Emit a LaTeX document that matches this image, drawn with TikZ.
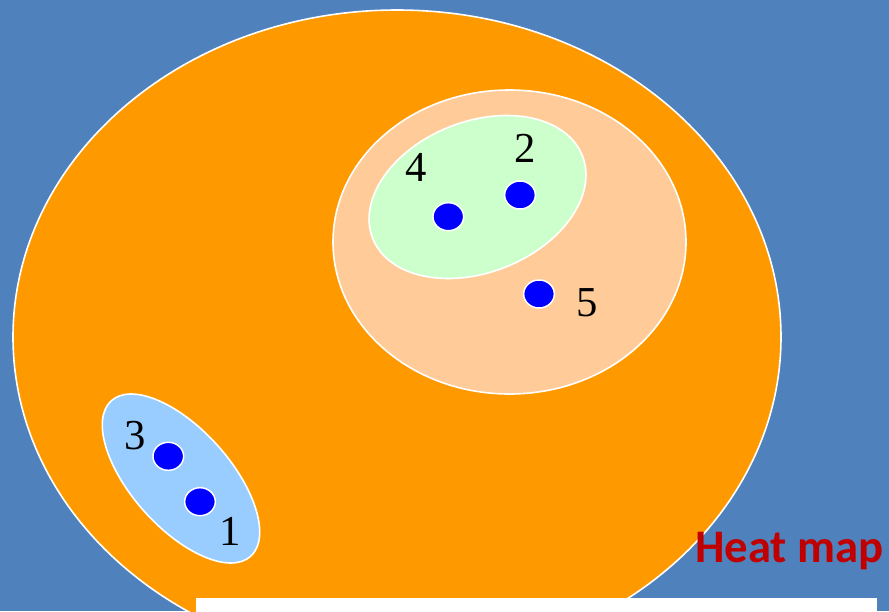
\documentclass[tikz,border=0pt]{standalone}
\usepackage{fontspec}
\setmainfont{Liberation Serif}
\newfontfamily\heatfont{Carlito}
\usetikzlibrary{shapes.geometric}
\definecolor{bgblue}{RGB}{79,129,189}
\definecolor{orangeset}{RGB}{255,153,0}
\definecolor{peachset}{RGB}{255,204,153}
\definecolor{greenset}{RGB}{204,255,204}
\definecolor{blueset}{RGB}{153,204,255}
\definecolor{dotblue}{RGB}{0,0,255}
\definecolor{heatred}{RGB}{192,0,0}
\tikzset{
  setline/.style={draw=white, line width=1.2pt},
  dot/.style={ellipse, fill=dotblue, draw=white, line width=1.1pt, inner sep=0pt, minimum width=23pt, minimum height=21pt},
  numlabel/.style={inner sep=0pt, font=\fontsize{32}{32}\selectfont, text=black}
}
\begin{document}
\begin{tikzpicture}[x=0.75pt,y=-0.75pt]
\useasboundingbox (0,0) rectangle (889,611);
\clip (0,0) rectangle (889,611);
\fill[bgblue] (0,0) rectangle (889,611);
% big orange set
\path[setline, fill=orangeset] (397,337) ellipse [x radius=384, y radius=327];
% peach set
\path[setline, fill=peachset] (509.5,242) ellipse [x radius=176.5, y radius=152];
% green set
\path[setline, fill=greenset, rotate around={21.5:(477.5,197)}] (477.5,197) ellipse [x radius=112.7, y radius=75.5];
% light blue set
\path[setline, fill=blueset, rotate around={-48.2:(181,478.5)}] (181,478.5) ellipse [x radius=104.4, y radius=49.3];
% dots
\node[dot] (d1) at (200,501.7) {};
\node[dot] (d3) at (168.3,456.3) {};
\node[dot] (d4) at (448.3,216.7) {};
\node[dot] (d2) at (520,195) {};
\node[dot] (d5) at (539,294) {};
% labels
\node[numlabel] (l3) at (135,436) {3};
\node[numlabel] (l1) at (230,531.7) {1};
\node[numlabel] (l4) at (415.7,167.3) {4};
\node[numlabel] (l2) at (525,148.3) {2};
\node[numlabel] (l5) at (586.7,302.7) {5};
% heat map title
\node[anchor=base west, inner sep=0pt, text=heatred, font=\heatfont\bfseries\fontsize{35}{35}\selectfont] (heat) at (695,562) {Heat map};
% white bar
\fill[white] (196,598) rectangle (877,615);
\end{tikzpicture}
\end{document}
